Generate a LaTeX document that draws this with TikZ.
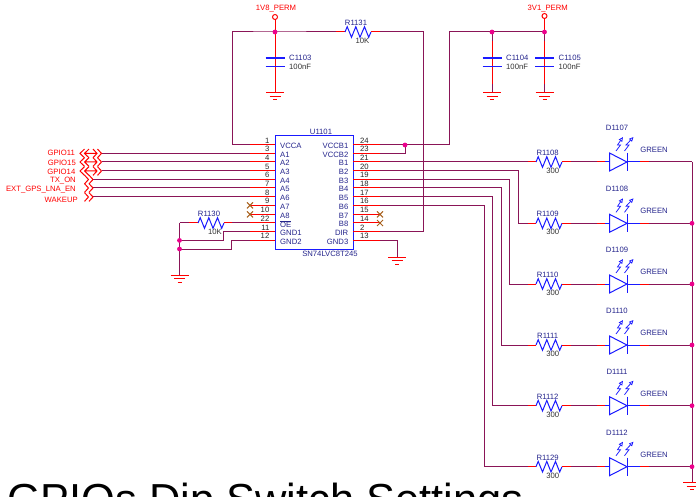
\documentclass[tikz,border=0pt]{standalone}
\usepackage{fontspec}
\setmainfont{Liberation Sans}
\usetikzlibrary{arrows.meta,calc}
\definecolor{wirecol}{HTML}{8A1557}
\definecolor{partcol}{HTML}{1A1AFF}
\definecolor{namecol}{HTML}{25258C}
\definecolor{nccol}{HTML}{A8601C}
\tikzset{
	wire/.style={draw=wirecol,line width=1pt},
	pinline/.style={draw=red,line width=1pt},
	part/.style={draw=partcol,line width=1pt},
	lbl/.style={inner sep=0pt,font=\fontsize{7.7}{8}\selectfont},
	partname/.style={lbl,text=namecol},
	partval/.style={lbl,text=black!80},
	netname/.style={lbl,text=red},
	pinnum/.style={lbl,text=black!85},
	jct/.style={fill=magenta,draw=none},
	gnd/.pic={\draw[red,line width=1pt] (-9,0) -- (9,0) (-5.5,3.7) -- (5.5,3.7) (-2,7.2) -- (2,7.2);},
	resistor/.pic={\draw[part] (0,0) -- (2.2,-5.3) -- (6.5,5.3) -- (10.8,-5.3) -- (15,5.3) -- (19.5,-5.3) -- (23.7,5.3) -- (26,0);},
	capacitor/.pic={
		\draw[partcol,line width=1.8pt] (-9.5,0) -- (9.5,0);
		\draw[part] (-9.5,8.5) -- (9.5,8.5);},
	ncmark/.pic={\draw[nccol,line width=1pt] (-3,-3) -- (3,3) (-3,3) -- (3,-3);},
	inmark/.pic={\draw[red,line width=1pt] (-8.5,-4.35) -- (-4.5,0) -- (-8.5,4.35) (-4,-4.35) -- (0,0) -- (-4,4.35);},
	bimark/.pic={\draw[red,line width=1pt] (4.5,-4.35) -- (0,0) -- (4.5,4.35) (9,-4.35) -- (4.5,0) -- (9,4.35)
		(4.5,0) -- (17,0) (13,-4.35) -- (17,0) -- (13,4.35) (17.5,-4.35) -- (21.5,0) -- (17.5,4.35);},
	led/.pic={
		\draw[part] (0,-9) -- (0,9) -- (17.5,0) -- cycle;
		\draw[part] (17.5,-9) -- (17.5,9);
		\draw[partcol,line width=.75pt,-{Triangle[open,length=4.5pt,width=4pt]}] (6.5,-11) -- (11,-17) -- (8,-17) -- (13.5,-25);
		\draw[partcol,line width=.75pt,-{Triangle[open,length=4.5pt,width=4pt]}] (15,-11) -- (19.5,-17) -- (16.5,-17) -- (24,-25);},
}
\begin{document}
\begin{tikzpicture}[x=1pt,y=-1pt]
	\useasboundingbox (0,0) rectangle (696,497);

	% chip U1101
	\draw[part] (275,136) rectangle (353,249);
	\node[partname] (u1101) at (321,132) {U1101};
	\node[partname] (chiptype) at (330,254) {SN74LVC8T245};

	% left pins
	\foreach \n/\y/\pname in {1/145/VCCA,3/153.4/A1,4/162/A2,5/171/A3,6/179.5/A4,7/188/A5,8/197/A6,9/205.4/A7,10/214.4/A8,22/223/$\overline{\mbox{OE}}$,11/232/GND1,12/240.4/GND2} {
		\coordinate (pl\n) at (250,\y);
		\coordinate (cl\n) at (275,\y);
		\draw[pinline] (pl\n) -- (cl\n);
		\node[pinnum,anchor=east] (numl\n) at (269.5,\y-4.4) {\n};
		\node[partname,anchor=west] (txtl\n) at (280,\y+1) {\pname};
	}
	% right pins
	\foreach \n/\y/\pname in {24/145/VCCB1,23/153.7/VCCB2,21/162/B1,20/171/B2,19/179.5/B3,18/188/B4,17/197/B5,16/205.4/B6,15/214.4/B7,14/223/B8,2/232/DIR,13/240.4/GND3} {
		\coordinate (pr\n) at (380,\y);
		\coordinate (cr\n) at (353,\y);
		\draw[pinline] (cr\n) -- (pr\n);
		\node[pinnum,anchor=west] (numr\n) at (360,\y-4.4) {\n};
		\node[partname,anchor=east] (txtr\n) at (348.5,\y+1) {\pname};
	}

	% supply 1V8
	\coordinate (vcc) at (275,32);
	\coordinate (vcctl) at (232,32);
	\coordinate (vccbl) at (232,145);
	\coordinate (vcctr) at (423,32);
	\coordinate (vccbr) at (423,232);
	\coordinate (rtl) at (336,32);
	\coordinate (rtr) at (380,32);
	\draw[red,line width=1pt] (275,17) circle (2.5);
	\draw[pinline] (275,19.5) -- (vcc);
	\node[netname] (net1v8) at (276,9) {1V8\_PERM};
	\draw[wire] (rtl) -- (vcc) -- (vcctl) -- (vccbl) -- (pl1);
	\draw[wire] (rtr) -- (vcctr) -- (vccbr) -- (pr2);
	\draw[pinline] (rtl) -- (345,32);
	\draw[pinline] (371,32) -- (rtr);
	\pic at (345,32) {resistor};
	\node[partname] (r1131) at (356,22.7) {R1131};
	\node[partval] (r1131v) at (362.5,40.5) {10K};

	% supply 3V1
	\coordinate (vio) at (544.5,32);
	\coordinate (viotl) at (449,32);
	\coordinate (viobl) at (449,145);
	\coordinate (viopin) at (405,145);
	\coordinate (vioc) at (492,32);
	\draw[red,line width=1pt] (544.5,16) circle (2.5);
	\draw[pinline] (544.5,18.5) -- (vio);
	\node[netname] (net3v1) at (547.7,9) {3V1\_PERM};
	\draw[wire] (vio) -- (viotl) -- (viobl) -- (pr24);
	\draw[wire] (pr23) -| (viopin);

	% capacitors
	\foreach \x/\cname in {275/C1103,492/C1104,544.5/C1105} {
		\draw[pinline] (\x,32) -- (\x,92.5);
		\pic at (\x,58) {capacitor};
		\pic at (\x,92.5) {gnd};
		\node[partname,anchor=west] (\cname) at (\x+14,58) {\cname};
		\node[partval,anchor=west] (\cname v) at (\x+14,66.5) {100nF};
	}
	\draw[wire] (492,32) -- (492,41) (492,84) -- (492,92);
	\draw[wire] (544.5,32) -- (544.5,41) (544.5,84) -- (544.5,92);

	% signals on the left
	\foreach \n/\y/\sname/\xe in {3/152.6/GPIO11/75,4/162.6/GPIO15/76,5/172/GPIO14/75.5} {
		\coordinate (sig\n) at (101.5,0 |- pl\n);
		\draw[wire] (sig\n) -- (pl\n);
		\pic at (80,0 |- pl\n) {bimark};
		\node[netname,anchor=east] (lab\n) at (\xe,\y) {\sname};
	}
	\foreach \n/\y/\sname/\xe in {6/181/TX\_ON/76,7/190/EXT\_GPS\_LNA\_EN/76,8/199.5/WAKEUP/78} {
		\coordinate (sig\n) at (93,0 |- pl\n);
		\draw[wire] (sig\n) -- (pl\n);
		\pic at (sig\n) {inmark};
		\node[netname,anchor=east] (lab\n) at (\xe,\y) {\sname};
	}

	% not connected pins
	\pic at (pl9) {ncmark};
	\pic at (pl10) {ncmark};
	\pic at (pr15) {ncmark};
	\pic at (pr14) {ncmark};

	% OE and ground on the left
	\coordinate (gl) at (179.5,223);
	\coordinate (gj1) at (179.5,240.4);
	\coordinate (gj2) at (179.5,249);
	\coordinate (gb) at (179.5,275);
	\coordinate (oer) at (232,223);
	\draw[wire] (gl) -- (gb);
	\draw[wire] (gl) -- (198,223);
	\draw[pinline] (189,223) -- (198,223);
	\draw[wire] (oer) -- (pl22);
	\draw[pinline] (224,223) -- (oer);
	\pic at (198,223) {resistor};
	\node[partname] (r1130) at (209,214) {R1130};
	\node[partval] (r1130v) at (215,231.7) {10K};
	\draw[wire] (pl11) -- (223,232) -- (223,240.4) -- (gj1);
	\draw[wire] (pl12) -- (231.5,240.4) -- (231.5,249) -- (gj2);
	\pic at (gb) {gnd};

	% ground of GND3
	\coordinate (g3) at (397,240.4);
	\coordinate (g3b) at (397,257);
	\draw[wire] (pr13) -- (g3) -- (g3b);
	\pic at (g3b) {gnd};

	% led rows
	\foreach \y/\rname/\dname [count=\i] in {162/R1108/D1107,223.3/R1109/D1108,284/R1110/D1109,345/R1111/D1110,405.7/R1112/D1111,466.7/R1129/D1112} {
		\coordinate (rl\i) at (527.5,\y);
		\coordinate (bus\i) at (692,\y);
		\draw[pinline] (rl\i) -- (536,\y);
		\pic at (536,\y) {resistor};
		\draw[pinline] (562,\y) -- (571,\y);
		\draw[wire] (571,\y) -- (597,\y);
		\draw[pinline] (597,\y) -- (605,\y);
		\draw[part] (605,\y) -- (609.5,\y);
		\pic at (609.5,\y) {led};
		\draw[part] (627,\y) -- (640,\y);
		\draw[pinline] (640,\y) -- (649,\y);
		\draw[wire] (649,\y) -- (bus\i);
		\node[partname] (\rname) at (547.7,\y-9) {\rname};
		\node[partval] (\rname v) at (552.7,\y+8.7) {300};
		\node[partname] (\dname) at (617,\y-34) {\dname};
		\node[partname] (green\i) at (654,\y-12) {GREEN};
	}

	% nets from the B pins to the led rows
	\draw[wire] (pr21) -- (rl1);
	\foreach \n/\x/\i in {20/518.5/2,19/509.7/3,18/501/4,17/492.3/5,16/484/6} {
		\coordinate (bend\i) at (\x,0 |- pr\n);
		\draw[wire] (pr\n) -- (bend\i) |- (rl\i);
	}

	% bus and its ground
	\coordinate (busend) at (692,482.7);
	\draw[wire] (bus1) -- (busend);
	\pic at (busend) {gnd};

	% junctions
	\foreach \c in {vcc,vio,vioc,viopin,gj1,gj2,bus2,bus3,bus4,bus5,bus6} {
		\fill[jct] (\c) circle (2.4);
	}

	% heading
	\node[inner sep=0pt,anchor=base west,font=\fontsize{43.4}{44}\selectfont] (heading) at (7,514.5) {GPIOs Dip Switch Settings};
\end{tikzpicture}
\end{document}
